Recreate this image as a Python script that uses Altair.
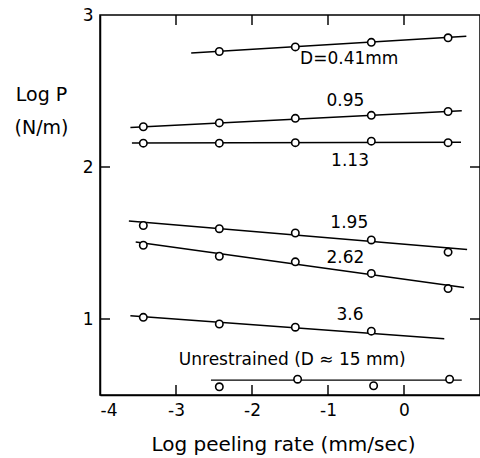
import altair as alt
import pandas as pd

# ---- data ----
series = ["0.41", "0.95", "1.13", "1.95", "2.62", "3.6", "unr"]

pt_x = {
    "0.41": [-2.43, -1.43, -0.43, 0.58],
    "0.95": [-3.43, -2.43, -1.43, -0.43, 0.58],
    "1.13": [-3.43, -2.43, -1.43, -0.43, 0.58],
    "1.95": [-3.43, -2.43, -1.43, -0.43, 0.58],
    "2.62": [-3.43, -2.43, -1.43, -0.43, 0.58],
    "3.6": [-3.43, -2.43, -1.43, -0.43],
    "unr": [-2.43, -1.40, -0.40, 0.60],
}
pt_y = {
    "0.41": [2.76, 2.79, 2.82, 2.85],
    "0.95": [2.265, 2.29, 2.32, 2.34, 2.365],
    "1.13": [2.157, 2.157, 2.16, 2.17, 2.16],
    "1.95": [1.615, 1.594, 1.566, 1.52, 1.44],
    "2.62": [1.485, 1.413, 1.376, 1.30, 1.20],
    "3.6": [1.011, 0.967, 0.946, 0.92],
    "unr": [0.554, 0.604, 0.561, 0.604],
}
# fitted line end points (x0, y0, x1, y1)
line_x0 = [-2.80, -3.60, -3.58, -3.62, -3.53, -3.60, -2.54]
line_y0 = [2.75, 2.26, 2.158, 1.645, 1.507, 1.021, 0.598]
line_x1 = [0.82, 0.76, 0.75, 0.83, 0.79, 0.53, 0.76]
line_y1 = [2.86, 2.37, 2.163, 1.457, 1.207, 0.870, 0.598]

label_text = ["D=0.41mm", "0.95", "1.13", "1.95", "2.62", "3.6", "Unrestrained (D \u2248 15 mm)"]
label_x = [-0.72, -0.77, -0.71, -0.72, -0.77, -0.71, -1.47]
label_y = [2.71, 2.435, 2.04, 1.63, 1.40, 1.026, 0.728]

x_domain = [-4.0, 1.0]
y_domain = [0.5, 3.0]
x_ticks = [-4, -3, -2, -1, 0]
x_inner_ticks = [-3.0, -2.0, -1.0, 0.0]
y_ticks = [1, 2, 3]
y_inner_ticks = [1.0, 2.0]

FONT = "DejaVu Sans"
W, H = 380, 380
TICK_PX = 10.0

pts = pd.DataFrame(
    [{"s": s, "x": xx, "y": yy} for s in series for xx, yy in zip(pt_x[s], pt_y[s])]
)
lines = pd.DataFrame(
    {"s": series, "x0": line_x0, "y0": line_y0, "x1": line_x1, "y1": line_y1}
)
labels = pd.DataFrame({"t": label_text, "x": label_x, "y": label_y})

# inward ticks, built from domain / tick arrays
tx = TICK_PX * (x_domain[1] - x_domain[0]) / W
ty = TICK_PX * (y_domain[1] - y_domain[0]) / H
frame_rows = []
for v in x_inner_ticks:
    frame_rows.append({"s": "bt", "x0": v, "x1": v, "y0": y_domain[0], "y1": y_domain[0] + ty})
    frame_rows.append({"s": "tt", "x0": v, "x1": v, "y0": y_domain[1], "y1": y_domain[1] - ty})
for v in y_inner_ticks:
    frame_rows.append({"s": "lt", "x0": x_domain[0], "x1": x_domain[0] + tx, "y0": v, "y1": v})
    frame_rows.append({"s": "rt", "x0": x_domain[1], "x1": x_domain[1] - tx, "y0": v, "y1": v})
frame = pd.DataFrame(frame_rows)

all_rules = pd.concat([lines, frame], ignore_index=True)

xs = alt.Scale(domain=x_domain, nice=False, zero=False)
ys = alt.Scale(domain=y_domain, nice=False, zero=False)

xaxis = alt.Axis(
    values=x_ticks, ticks=False, grid=False, domain=True, domainColor="black",
    domainWidth=1.5, labelFont=FONT, labelFontSize=17, labelColor="black",
    labelPadding=7, labelExpr="datum.value + ''",
    title="Log peeling rate (mm/sec)", titleFont=FONT, titleFontSize=20,
    titleFontWeight="normal", titleColor="black", titleX=183, titleY=55,
    titleBaseline="alphabetic", titleAlign="center",
)
yaxis = alt.Axis(
    values=y_ticks, ticks=False, grid=False, domain=True, domainColor="black",
    domainWidth=1.5, labelFont=FONT, labelFontSize=17, labelColor="black",
    labelPadding=7, labelExpr="datum.value + ''",
    title=["Log P", "(N/m)"], titleFont=FONT, titleFontSize=19,
    titleFontWeight="normal", titleColor="black", titleAngle=0,
    titleX=-59, titleY=85, titleAlign="center", titleBaseline="alphabetic",
    titleLineHeight=33,
)

line_layer = alt.Chart(all_rules).mark_rule(color="black", strokeWidth=1.45).encode(
    x=alt.X("x0:Q", scale=xs, axis=xaxis),
    y=alt.Y("y0:Q", scale=ys, axis=yaxis),
    x2="x1:Q",
    y2="y1:Q",
)
point_layer = alt.Chart(pts).mark_point(
    shape="circle", filled=True, fill="white", stroke="black", strokeWidth=1.6,
    size=55, opacity=1,
).encode(x=alt.X("x:Q", scale=xs), y=alt.Y("y:Q", scale=ys))

text_layer = alt.Chart(labels).mark_text(
    font=FONT, fontSize=17, color="black", align="center", baseline="middle"
).encode(x=alt.X("x:Q", scale=xs), y=alt.Y("y:Q", scale=ys), text="t:N")

chart = (
    alt.layer(line_layer, point_layer, text_layer)
    .properties(
        width=W,
        height=H,
        autosize=alt.AutoSizeParams(type="none"),
        padding={"left": 100, "top": 15, "right": 0, "bottom": 63},
        background="white",
    )
    .configure_view(stroke="black", strokeWidth=1.5)
)

chart.save("out.html", embed_options={"renderer": "svg", "actions": False})
